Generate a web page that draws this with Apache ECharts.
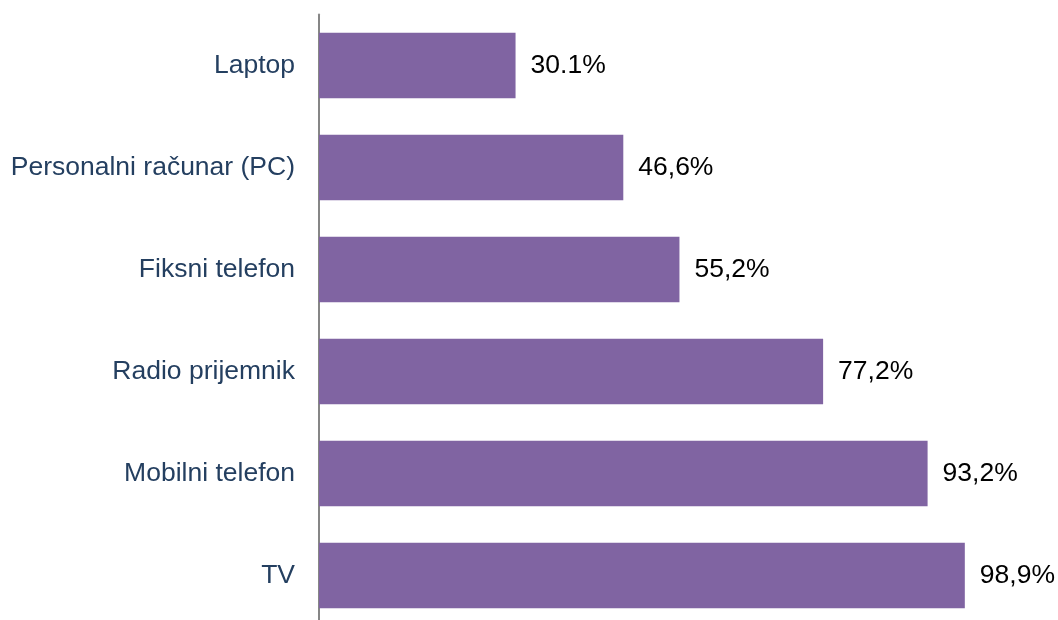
<!DOCTYPE html>
<html>
<head>
    <meta charset="utf-8">
    <title>Posjedovanje uređaja</title>
    <script src="https://cdn.jsdelivr.net/npm/echarts@6/dist/echarts.min.js"></script>
    <style>
        html, body { margin: 0; padding: 0; background: #fff; }
        #chart1 { width: 1058px; height: 620px; }
    </style>
</head>
<body>
<div id="chart1"></div>
<script type="text/javascript">
    // kategorije odozgo prema dolje
    var categories = ['Laptop', 'Personalni računar (PC)', 'Fiksni telefon', 'Radio prijemnik', 'Mobilni telefon', 'TV'];
    var values = [30.1, 46.6, 55.2, 77.2, 93.2, 98.9];
    var valueLabels = ['30.1%', '46,6%', '55,2%', '77,2%', '93,2%', '98,9%'];

    var myChart1 = echarts.init(document.getElementById('chart1'));
    myChart1.setOption({
        animation: false,
        grid: {
            left: 319,
            right: 86,
            top: 14.5,
            height: 612,
            outerBoundsMode: 'none'
        },
        xAxis: {
            type: 'value',
            min: 0,
            max: 100,
            show: false
        },
        yAxis: {
            type: 'category',
            inverse: true,
            data: categories,
            axisLine: { show: true, lineStyle: { color: '#868686', width: 2 } },
            axisTick: { show: false },
            axisLabel: {
                margin: 24,
                color: '#243F60',
                fontFamily: 'Liberation Sans',
                fontSize: 26.5,
                padding: [3, 0, 0, 0]
            }
        },
        series: [{
            type: 'bar',
            data: values,
            barCategoryGap: '36%',
            itemStyle: { color: '#8064A2' },
            label: {
                show: true,
                position: 'right',
                distance: 15,
                color: '#000',
                fontFamily: 'Liberation Sans',
                fontSize: 26.5,
                padding: [3, 0, 0, 0],
                formatter: function (p) { return valueLabels[p.dataIndex]; }
            }
        }]
    });
</script>
</body>
</html>
